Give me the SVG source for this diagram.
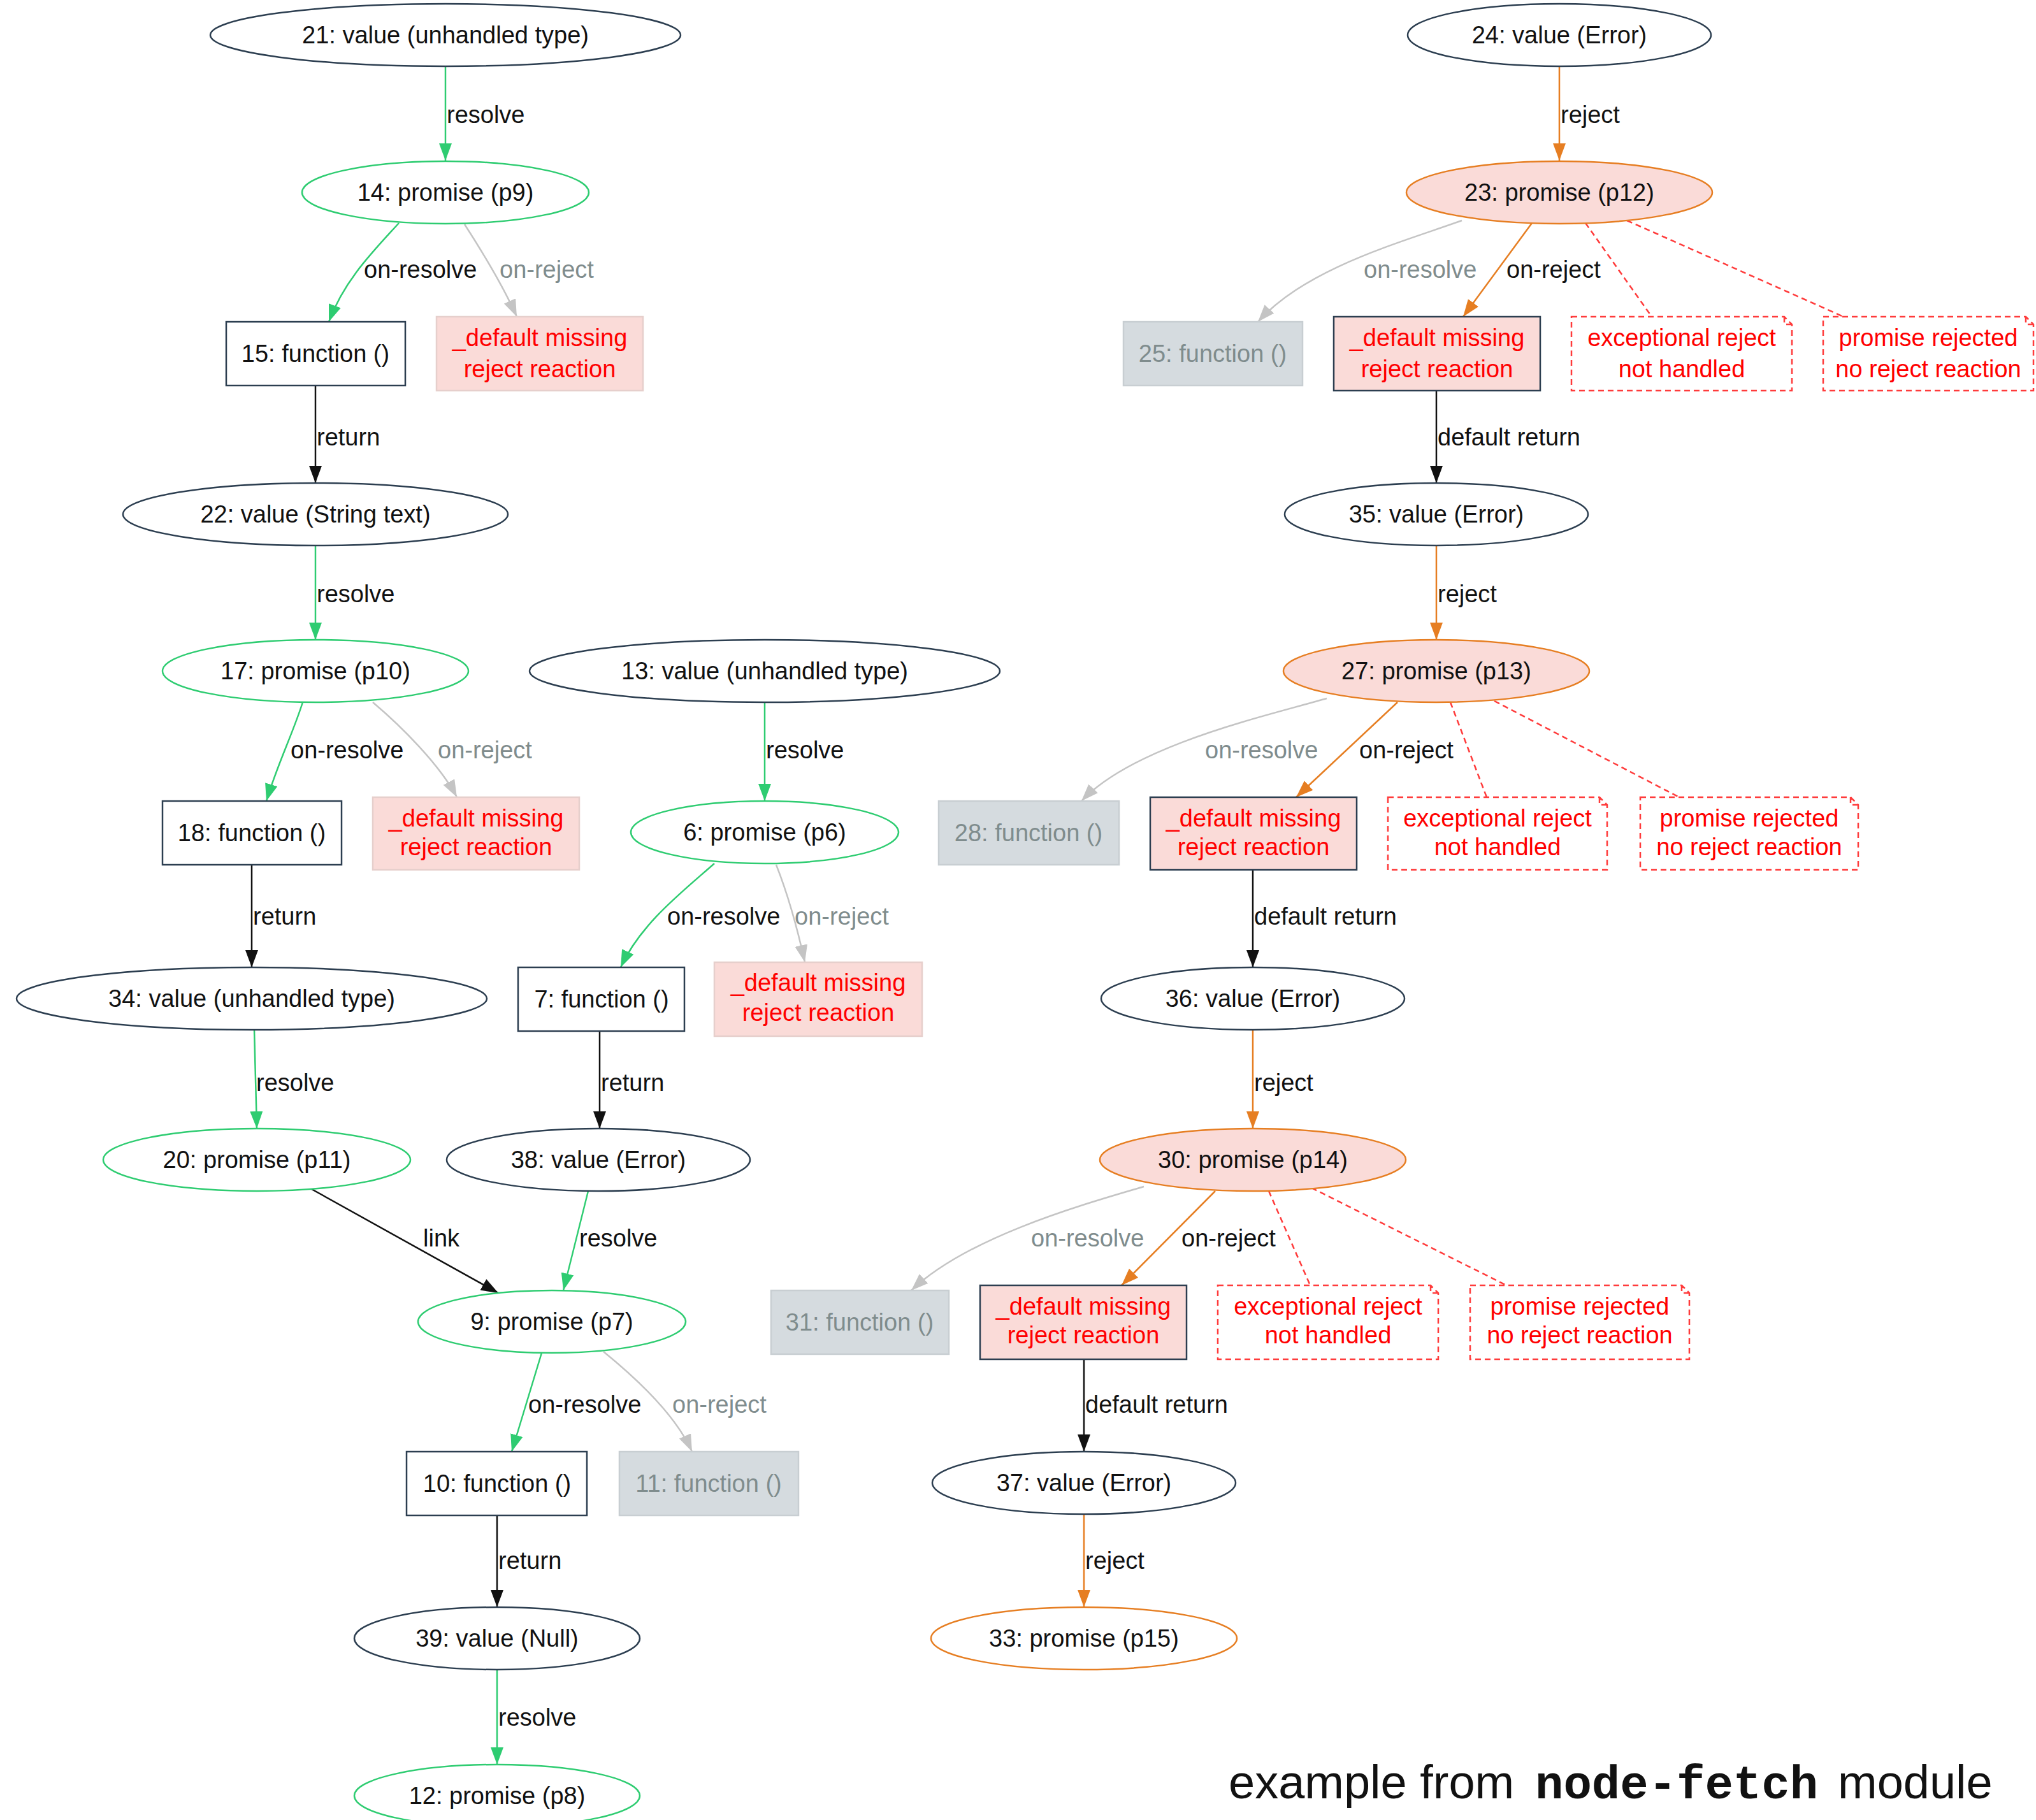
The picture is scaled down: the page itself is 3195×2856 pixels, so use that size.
<svg xmlns="http://www.w3.org/2000/svg" width="3195" height="2856" viewBox="0 0 3195 2856">
<style>
text{font-family:"Liberation Sans",Arial,sans-serif;font-size:38px;}
.t{text-anchor:middle;fill:#111;}
.tr{text-anchor:middle;fill:#f00;}
.tg{text-anchor:middle;fill:#7f8c8d;}
.l{fill:#111;}
.lg{fill:#7f8c8d;}
.ev{fill:#fff;stroke:#2c3e50;stroke-width:2.5;}
.ep{fill:#fff;stroke:#2ecc71;stroke-width:2.5;}
.er{fill:#fadbd8;stroke:#e67e22;stroke-width:2.5;}
.eo{fill:#fff;stroke:#e67e22;stroke-width:2.5;}
.fn{fill:#fff;stroke:#2c3e50;stroke-width:2.5;}
.fg{fill:#d5dbdf;stroke:#c8ced2;stroke-width:2.5;}
.dm{fill:#fadbd8;stroke:#e6cfcc;stroke-width:2.5;}
.dmd{fill:#fadbd8;stroke:#2c3e50;stroke-width:2.5;}
.note{fill:#fff;stroke:#ff3b3b;stroke-width:2.5;stroke-dasharray:9 6;}
.cg{fill:none;stroke:#2ecc71;stroke-width:2.5;}
.co{fill:none;stroke:#e67e22;stroke-width:2.5;}
.ck{fill:none;stroke:#111;stroke-width:2.5;}
.cy{fill:none;stroke:#c4c4c4;stroke-width:2.5;}
.cd{fill:none;stroke:#ff3b3b;stroke-width:2.5;stroke-dasharray:9 6;}
.cap{font-size:74px;fill:#111;}
</style>
<defs>
<marker id="ag" markerUnits="userSpaceOnUse" markerWidth="28" markerHeight="22" refX="27" refY="10" orient="auto"><path d="M0,0 L27,10 L0,20 z" fill="#2ecc71"/></marker>
<marker id="ao" markerUnits="userSpaceOnUse" markerWidth="28" markerHeight="22" refX="27" refY="10" orient="auto"><path d="M0,0 L27,10 L0,20 z" fill="#e67e22"/></marker>
<marker id="ak" markerUnits="userSpaceOnUse" markerWidth="28" markerHeight="22" refX="27" refY="10" orient="auto"><path d="M0,0 L27,10 L0,20 z" fill="#111"/></marker>
<marker id="ay" markerUnits="userSpaceOnUse" markerWidth="28" markerHeight="22" refX="27" refY="10" orient="auto"><path d="M0,0 L27,10 L0,20 z" fill="#c4c4c4"/></marker>
</defs>
<rect x="0" y="0" width="3195" height="2856" fill="#fff"/>

<g id="connectors">
<!-- left column -->
<path class="cg" marker-end="url(#ag)" d="M699,104 L699,252"/>
<text class="l" x="701" y="193">resolve</text>
<path class="cg" marker-end="url(#ag)" d="M626,350 C585,395 540,440 516,505"/>
<text class="l" x="571" y="436">on-resolve</text>
<path class="cy" marker-end="url(#ay)" d="M729,352 C760,400 790,450 811,497"/>
<text class="lg" x="784" y="436">on-reject</text>
<path class="ck" marker-end="url(#ak)" d="M495,605 L495,758"/>
<text class="l" x="497" y="699">return</text>
<path class="cg" marker-end="url(#ag)" d="M495,856 L495,1004"/>
<text class="l" x="497" y="945">resolve</text>
<path class="cg" marker-end="url(#ag)" d="M475,1102 C460,1150 435,1200 418,1257"/>
<text class="l" x="456" y="1190">on-resolve</text>
<path class="cy" marker-end="url(#ay)" d="M585,1102 C630,1140 690,1200 717,1251"/>
<text class="lg" x="687" y="1190">on-reject</text>
<path class="ck" marker-end="url(#ak)" d="M395,1357 L395,1518"/>
<text class="l" x="397" y="1451">return</text>
<path class="cg" marker-end="url(#ag)" d="M399,1616 L403,1771"/>
<text class="l" x="402" y="1712">resolve</text>
<path class="ck" marker-end="url(#ak)" d="M489,1866 L782,2029"/>
<text class="l" x="664" y="1956">link</text>
<path class="cg" marker-end="url(#ag)" d="M923,1869 L884,2025"/>
<text class="l" x="909" y="1956">resolve</text>
<path class="cg" marker-end="url(#ag)" d="M1200,1102 L1200,1257"/>
<text class="l" x="1202" y="1190">resolve</text>
<path class="cg" marker-end="url(#ag)" d="M1121,1355 C1070,1400 1005,1450 974,1518"/>
<text class="l" x="1047" y="1451">on-resolve</text>
<path class="cy" marker-end="url(#ay)" d="M1218,1357 C1235,1400 1252,1460 1263,1510"/>
<text class="lg" x="1247" y="1451">on-reject</text>
<path class="ck" marker-end="url(#ak)" d="M941,1618 L941,1771"/>
<text class="l" x="943" y="1712">return</text>
<path class="cg" marker-end="url(#ag)" d="M850,2123 L803,2278"/>
<text class="l" x="829" y="2217">on-resolve</text>
<path class="cy" marker-end="url(#ay)" d="M947,2121 C995,2160 1060,2220 1086,2278"/>
<text class="lg" x="1055" y="2217">on-reject</text>
<path class="ck" marker-end="url(#ak)" d="M780,2378 L780,2522"/>
<text class="l" x="782" y="2462">return</text>
<path class="cg" marker-end="url(#ag)" d="M780,2620 L780,2769"/>
<text class="l" x="782" y="2708">resolve</text>

<!-- right column -->
<path class="co" marker-end="url(#ao)" d="M2447,104 L2447,252"/>
<text class="l" x="2449" y="193">reject</text>
<path class="cy" marker-end="url(#ay)" d="M2294,346 C2200,380 2050,420 1974,505"/>
<text class="lg" x="2140" y="436">on-resolve</text>
<path class="co" marker-end="url(#ao)" d="M2404,350 L2296,497"/>
<text class="l" x="2364" y="436">on-reject</text>
<path class="cd" d="M2488,350 L2592,497"/>
<path class="cd" d="M2553,346 L2893,497"/>
<path class="ck" marker-end="url(#ak)" d="M2254,613 L2254,758"/>
<text class="l" x="2256" y="699">default return</text>
<path class="co" marker-end="url(#ao)" d="M2254,856 L2254,1004"/>
<text class="l" x="2256" y="945">reject</text>
<path class="cy" marker-end="url(#ay)" d="M2082,1096 C1980,1125 1780,1170 1697,1257"/>
<text class="lg" x="1891" y="1190">on-resolve</text>
<path class="co" marker-end="url(#ao)" d="M2193,1102 L2034,1251"/>
<text class="l" x="2133" y="1190">on-reject</text>
<path class="cd" d="M2276,1102 L2333,1251"/>
<path class="cd" d="M2345,1100 L2635,1251"/>
<path class="ck" marker-end="url(#ak)" d="M1966,1365 L1966,1518"/>
<text class="l" x="1968" y="1451">default return</text>
<path class="co" marker-end="url(#ao)" d="M1966,1616 L1966,1771"/>
<text class="l" x="1968" y="1712">reject</text>
<path class="cy" marker-end="url(#ay)" d="M1795,1862 C1700,1890 1520,1940 1430,2025"/>
<text class="lg" x="1618" y="1956">on-resolve</text>
<path class="co" marker-end="url(#ao)" d="M1907,1869 L1760,2017"/>
<text class="l" x="1854" y="1956">on-reject</text>
<path class="cd" d="M1991,1869 L2056,2017"/>
<path class="cd" d="M2058,1864 L2364,2017"/>
<path class="ck" marker-end="url(#ak)" d="M1701,2133 L1701,2278"/>
<text class="l" x="1703" y="2217">default return</text>
<path class="co" marker-end="url(#ao)" d="M1701,2376 L1701,2522"/>
<text class="l" x="1703" y="2462">reject</text>
</g>

<g id="n21"><ellipse class="ev" cx="699" cy="55" rx="369" ry="49"/><text class="t" x="699" y="68">21: value (unhandled type)</text></g>
<g id="n14"><ellipse class="ep" cx="699" cy="302" rx="225" ry="49"/><text class="t" x="699" y="315">14: promise (p9)</text></g>
<g id="n15"><rect class="fn" x="355" y="505" width="281" height="100"/><text class="t" x="495" y="568">15: function ()</text></g>
<g id="n15r"><rect class="dm" x="685" y="497" width="324" height="116"/><text class="tr" x="847" y="543">_default missing</text><text class="tr" x="847" y="592">reject reaction</text></g>
<g id="n22"><ellipse class="ev" cx="495" cy="807" rx="302" ry="49"/><text class="t" x="495" y="820">22: value (String text)</text></g>
<g id="n17"><ellipse class="ep" cx="495" cy="1053" rx="240" ry="49"/><text class="t" x="495" y="1066">17: promise (p10)</text></g>
<g id="n18"><rect class="fn" x="255" y="1257" width="281" height="100"/><text class="t" x="395" y="1320">18: function ()</text></g>
<g id="n18r"><rect class="dm" x="585" y="1251" width="324" height="114"/><text class="tr" x="747" y="1297">_default missing</text><text class="tr" x="747" y="1342">reject reaction</text></g>
<g id="n34"><ellipse class="ev" cx="395" cy="1567" rx="369" ry="49"/><text class="t" x="395" y="1580">34: value (unhandled type)</text></g>
<g id="n20"><ellipse class="ep" cx="403" cy="1820" rx="241" ry="49"/><text class="t" x="403" y="1833">20: promise (p11)</text></g>
<g id="n13"><ellipse class="ev" cx="1200" cy="1053" rx="369" ry="49"/><text class="t" x="1200" y="1066">13: value (unhandled type)</text></g>
<g id="n6"><ellipse class="ep" cx="1200" cy="1306" rx="210" ry="49"/><text class="t" x="1200" y="1319">6: promise (p6)</text></g>
<g id="n7"><rect class="fn" x="813" y="1518" width="261" height="100"/><text class="t" x="944" y="1581">7: function ()</text></g>
<g id="n7r"><rect class="dm" x="1121" y="1510" width="326" height="116"/><text class="tr" x="1284" y="1555">_default missing</text><text class="tr" x="1284" y="1602">reject reaction</text></g>
<g id="n38"><ellipse class="ev" cx="939" cy="1820" rx="238" ry="49"/><text class="t" x="939" y="1833">38: value (Error)</text></g>
<g id="n9"><ellipse class="ep" cx="866" cy="2074" rx="210" ry="49"/><text class="t" x="866" y="2087">9: promise (p7)</text></g>
<g id="n10"><rect class="fn" x="638" y="2278" width="283" height="100"/><text class="t" x="780" y="2341">10: function ()</text></g>
<g id="n11"><rect class="fg" x="972" y="2278" width="281" height="100"/><text class="tg" x="1112" y="2341">11: function ()</text></g>
<g id="n39"><ellipse class="ev" cx="780" cy="2571" rx="224" ry="49"/><text class="t" x="780" y="2584">39: value (Null)</text></g>
<g id="n12"><ellipse class="ep" cx="780" cy="2818" rx="224" ry="49"/><text class="t" x="780" y="2831">12: promise (p8)</text></g>

<g id="n24"><ellipse class="ev" cx="2447" cy="55" rx="238" ry="49"/><text class="t" x="2447" y="68">24: value (Error)</text></g>
<g id="n23"><ellipse class="er" cx="2447" cy="302" rx="240" ry="49"/><text class="t" x="2447" y="315">23: promise (p12)</text></g>
<g id="n25"><rect class="fg" x="1763" y="505" width="281" height="100"/><text class="tg" x="1903" y="568">25: function ()</text></g>
<g id="n23r"><rect class="dmd" x="2093" y="497" width="324" height="116"/><text class="tr" x="2255" y="543">_default missing</text><text class="tr" x="2255" y="592">reject reaction</text></g>
<g id="n23e"><path class="note" d="M2466,497 H2800 L2812,509 V613 H2466 Z M2800,497 V509 H2812"/><text class="tr" x="2639" y="543">exceptional reject</text><text class="tr" x="2639" y="592">not handled</text></g>
<g id="n23p"><path class="note" d="M2861,497 H3179 L3191,509 V613 H2861 Z M3179,497 V509 H3191"/><text class="tr" x="3026" y="543">promise rejected</text><text class="tr" x="3026" y="592">no reject reaction</text></g>
<g id="n35"><ellipse class="ev" cx="2254" cy="807" rx="238" ry="49"/><text class="t" x="2254" y="820">35: value (Error)</text></g>
<g id="n27"><ellipse class="er" cx="2254" cy="1053" rx="240" ry="49"/><text class="t" x="2254" y="1066">27: promise (p13)</text></g>
<g id="n28"><rect class="fg" x="1473" y="1257" width="283" height="100"/><text class="tg" x="1614" y="1320">28: function ()</text></g>
<g id="n27r"><rect class="dmd" x="1805" y="1251" width="324" height="114"/><text class="tr" x="1967" y="1297">_default missing</text><text class="tr" x="1967" y="1342">reject reaction</text></g>
<g id="n27e"><path class="note" d="M2178,1251 H2510 L2522,1263 V1365 H2178 Z M2510,1251 V1263 H2522"/><text class="tr" x="2350" y="1297">exceptional reject</text><text class="tr" x="2350" y="1342">not handled</text></g>
<g id="n27p"><path class="note" d="M2574,1251 H2904 L2916,1263 V1365 H2574 Z M2904,1251 V1263 H2916"/><text class="tr" x="2745" y="1297">promise rejected</text><text class="tr" x="2745" y="1342">no reject reaction</text></g>
<g id="n36"><ellipse class="ev" cx="1966" cy="1567" rx="238" ry="49"/><text class="t" x="1966" y="1580">36: value (Error)</text></g>
<g id="n30"><ellipse class="er" cx="1966" cy="1820" rx="240" ry="49"/><text class="t" x="1966" y="1833">30: promise (p14)</text></g>
<g id="n31"><rect class="fg" x="1210" y="2025" width="279" height="100"/><text class="tg" x="1349" y="2088">31: function ()</text></g>
<g id="n30r"><rect class="dmd" x="1538" y="2017" width="324" height="116"/><text class="tr" x="1700" y="2063">_default missing</text><text class="tr" x="1700" y="2108">reject reaction</text></g>
<g id="n30e"><path class="note" d="M1911,2017 H2245 L2257,2029 V2133 H1911 Z M2245,2017 V2029 H2257"/><text class="tr" x="2084" y="2063">exceptional reject</text><text class="tr" x="2084" y="2108">not handled</text></g>
<g id="n30p"><path class="note" d="M2307,2017 H2639 L2651,2029 V2133 H2307 Z M2639,2017 V2029 H2651"/><text class="tr" x="2479" y="2063">promise rejected</text><text class="tr" x="2479" y="2108">no reject reaction</text></g>
<g id="n37"><ellipse class="ev" cx="1701" cy="2327" rx="238" ry="49"/><text class="t" x="1701" y="2340">37: value (Error)</text></g>
<g id="n33"><ellipse class="eo" cx="1701" cy="2571" rx="240" ry="49"/><text class="t" x="1701" y="2584">33: promise (p15)</text></g>

<g id="caption"><text class="cap" y="2822"><tspan x="1928">example from</tspan><tspan x="2409" style="font-family:'Liberation Mono','Courier New',monospace;font-weight:bold;">node-fetch</tspan><tspan x="2884">module</tspan></text></g>
</svg>
